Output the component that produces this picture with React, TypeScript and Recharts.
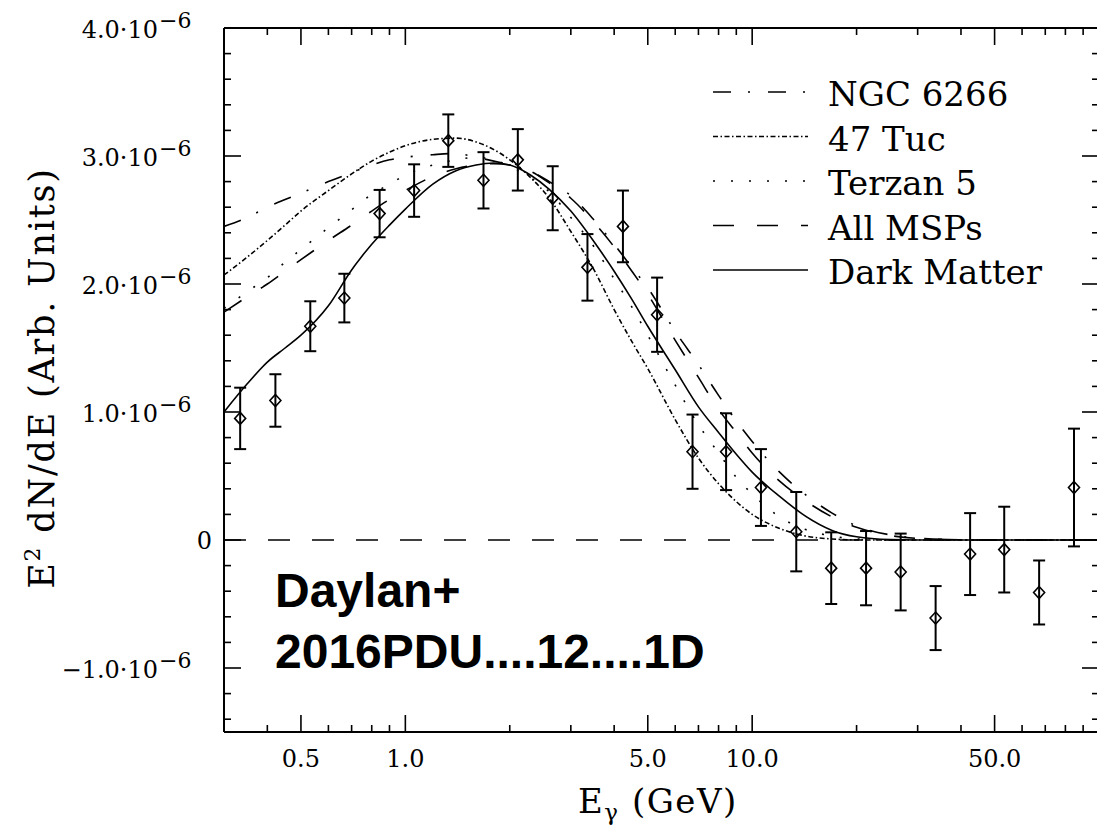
import React from 'react';
import { ComposedChart, Line, Scatter, ErrorBar, XAxis, YAxis, ReferenceLine, Legend } from 'recharts';

const UNIT = 1e-6;

// Measured spectrum: energy (GeV), E^2 dN/dE and 1-sigma error (in units of 1e-6)
const BIN_ENERGY = [0.334, 0.422, 0.532, 0.667, 0.843, 1.06, 1.33, 1.68, 2.11, 2.66, 3.35, 4.24, 5.32, 6.73, 8.41, 10.6, 13.4, 16.9, 21.3, 26.8, 33.8, 42.5, 53.3, 67.2, 84.7];
const BIN_FLUX = [0.95, 1.09, 1.67, 1.89, 2.55, 2.73, 3.12, 2.81, 2.97, 2.67, 2.13, 2.45, 1.76, 0.69, 0.69, 0.41, 0.065, -0.22, -0.22, -0.25, -0.61, -0.11, -0.075, -0.41, 0.41];
const BIN_ERROR = [0.24, 0.205, 0.195, 0.19, 0.185, 0.205, 0.205, 0.22, 0.24, 0.25, 0.26, 0.28, 0.29, 0.29, 0.3, 0.3, 0.31, 0.28, 0.29, 0.3, 0.25, 0.32, 0.335, 0.25, 0.46];

// Model spectra (units of 1e-6)
const CURVE_ENERGY = [0.3, 0.35, 0.4, 0.45, 0.5, 0.6, 0.7, 0.8, 0.9, 1.0, 1.2, 1.4, 1.6, 1.8, 2.0, 2.3, 2.6, 3.0, 3.5, 4.0, 4.5, 5.0, 6.0, 7.0, 8.0, 9.0, 10, 12, 14, 17, 20, 25, 30, 40, 60, 100];
const NGC_6266 = [2.45, 2.52, 2.6, 2.66, 2.71, 2.8, 2.87, 2.93, 2.97, 2.99, 3.01, 3.02, 2.99, 2.96, 2.93, 2.88, 2.8, 2.69, 2.5, 2.31, 2.13, 1.97, 1.63, 1.37, 1.13, 0.93, 0.77, 0.53, 0.37, 0.21, 0.11, 0.04, 0.015, 0.002, 0, 0];
const TUC_47 = [2.07, 2.21, 2.34, 2.46, 2.57, 2.73, 2.86, 2.96, 3.03, 3.08, 3.13, 3.14, 3.11, 3.05, 2.97, 2.83, 2.67, 2.41, 2.11, 1.8, 1.55, 1.34, 0.94, 0.64, 0.44, 0.3, 0.2, 0.09, 0.035, 0.008, 0.001, 0, 0, 0, 0, 0];
const TERZAN_5 = [1.81, 1.94, 2.05, 2.17, 2.27, 2.44, 2.58, 2.7, 2.78, 2.85, 2.93, 2.97, 2.99, 2.97, 2.92, 2.83, 2.72, 2.52, 2.29, 2.04, 1.82, 1.6, 1.21, 0.9, 0.68, 0.49, 0.36, 0.18, 0.09, 0.03, 0.008, 0, 0, 0, 0, 0];
const ALL_MSPS = [1.78, 1.9, 2.0, 2.1, 2.19, 2.34, 2.46, 2.57, 2.66, 2.73, 2.84, 2.9, 2.93, 2.94, 2.93, 2.88, 2.79, 2.67, 2.48, 2.29, 2.1, 1.92, 1.56, 1.27, 1.02, 0.84, 0.68, 0.46, 0.32, 0.18, 0.1, 0.035, 0.012, 0.002, 0, 0];
const DARK_MATTER = [1.0, 1.22, 1.39, 1.5, 1.6, 1.83, 2.11, 2.31, 2.46, 2.585, 2.78, 2.885, 2.93, 2.945, 2.93, 2.85, 2.74, 2.57, 2.33, 2.1, 1.88, 1.67, 1.33, 1.04, 0.84, 0.67, 0.53, 0.34, 0.2, 0.075, 0.025, 0.003, 0, 0, 0, 0];

// Axis ticks
const X_MAJOR = [0.5, 1, 5, 10, 50];
const X_MINOR = [0.4, 0.6, 0.7, 0.8, 0.9, 2, 3, 4, 6, 7, 8, 9, 20, 30, 40, 60, 70, 80, 90];
const Y_MAJOR = [-1, 0, 1, 2, 3, 4];
const Y_MINOR = [-1.4, -1.2, -0.8, -0.6, -0.4, -0.2, 0.2, 0.4, 0.6, 0.8, 1.2, 1.4, 1.6, 1.8, 2.2, 2.4, 2.6, 2.8, 3.2, 3.4, 3.6, 3.8];

const SERIES = [
  { key: 'ngc', name: 'NGC 6266', values: NGC_6266 },
  { key: 'tuc', name: '47 Tuc', values: TUC_47 },
  { key: 'ter', name: 'Terzan 5', values: TERZAN_5 },
  { key: 'msp', name: 'All MSPs', values: ALL_MSPS },
  { key: 'dm', name: 'Dark Matter', values: DARK_MATTER },
];

const DASH: Record<string, string | undefined> = {
  ngc: '18 17 2 18',
  tuc: '5 2.5 1.5 2.5',
  ter: '2 16',
  msp: '21 23',
  dm: undefined,
};

const curveRows = CURVE_ENERGY.map((e, i) => {
  const row: Record<string, number> = { x: e };
  SERIES.forEach((s) => { row[s.key] = s.values[i] * UNIT; });
  return row;
});

const pointRows = BIN_ENERGY.map((e, i) => ({ x: e, y: BIN_FLUX[i] * UNIT, err: BIN_ERROR[i] * UNIT }));

const X_TICKS = [...X_MAJOR, ...X_MINOR].sort((a, b) => a - b);
const Y_TICKS = [...Y_MAJOR, ...Y_MINOR].sort((a, b) => a - b).map((v) => v * UNIT);

const SERIF = "'DejaVu Serif', serif";
const SANS = "'Liberation Sans', Arial, sans-serif";

const isXMajor = (v: number) => X_MAJOR.some((m) => Math.abs(m - v) < 1e-9);
const yUnits = (v: number) => v / UNIT;
const isYMajor = (v: number) => Math.abs(yUnits(v) - Math.round(yUnits(v))) < 1e-6;

const XTickBottom = (props: any) => {
  const { x, y, payload } = props;
  const major = isXMajor(payload.value);
  return (
    <g>
      <line x1={x} y1={y} x2={x} y2={y - (major ? 17 : 7)} stroke="#000" strokeWidth={1.6} />
      {major && (
        <text x={x} y={y + 35} textAnchor="middle" fontFamily={SERIF} fontSize={24} fill="#000">
          {Number(payload.value).toFixed(1)}
        </text>
      )}
    </g>
  );
};

const XTickTop = (props: any) => {
  const { x, y, payload } = props;
  const major = isXMajor(payload.value);
  return <line x1={x} y1={y} x2={x} y2={y + (major ? 17 : 7)} stroke="#000" strokeWidth={1.6} />;
};

const YTickLeft = (props: any) => {
  const { x, y, payload } = props;
  const major = isYMajor(payload.value);
  const r = Math.round(yUnits(payload.value));
  let label = null;
  if (major) {
    if (r === 0) {
      label = (
        <text x={x - 12} y={y + 9} textAnchor="end" fontFamily={SERIF} fontSize={24} fill="#000">0</text>
      );
    } else {
      const mant = `${r < 0 ? '\u2212' : ''}${Math.abs(r).toFixed(1)}\u00b710`;
      label = (
        <g>
          <text x={x - 66} y={y + 10} textAnchor="end" fontFamily={SERIF} fontSize={24} fill="#000">{mant}</text>
          <text x={x - 65} y={y} textAnchor="start" fontFamily={SERIF} fontSize={22} fill="#000">{'\u22126'}</text>
        </g>
      );
    }
  }
  return (
    <g>
      <line x1={x} y1={y} x2={x + (major ? 17 : 7)} y2={y} stroke="#000" strokeWidth={1.6} />
      {label}
    </g>
  );
};

const YTickRight = (props: any) => {
  const { x, y, payload } = props;
  const major = isYMajor(payload.value);
  return <line x1={x} y1={y} x2={x - (major ? 17 : 7)} y2={y} stroke="#000" strokeWidth={1.6} />;
};

const XTitle = (props: any) => {
  const vb = props.viewBox || { x: 216, y: 724, width: 875, height: 94 };
  return (
    <text x={vb.x + 354} y={vb.y + 81} fontFamily={SERIF} fontSize={34} fill="#000" letterSpacing={1.5}>
      E<tspan fontSize={23} dy={7}>{'\u03b3'}</tspan>
      <tspan dy={-7}>{' (GeV)'}</tspan>
    </text>
  );
};

const YTitle = (props: any) => {
  const vb = props.viewBox || { x: 0, y: 20, width: 216, height: 704 };
  const cx = 46;
  const cy = vb.y + vb.height / 2 - 2;
  return (
    <text x={cx} y={cy} transform={`rotate(-90 ${cx} ${cy})`} textAnchor="middle" fontFamily={SERIF} fontSize={35} fill="#000" letterSpacing={1.8}>
      E<tspan fontSize={22} dy={-14}>2</tspan>
      <tspan dy={14}>{'  dN/dE (Arb. Units)'}</tspan>
    </text>
  );
};

const Diamond = (props: any) => {
  const { cx, cy } = props;
  if (cx == null || cy == null) return <g />;
  const w = 5.5;
  const h = 6;
  return (
    <polygon
      points={`${cx},${cy - h} ${cx + w},${cy} ${cx},${cy + h} ${cx - w},${cy}`}
      fill="none"
      stroke="#000"
      strokeWidth={1.6}
    />
  );
};

const LegendBox = (props: any) => {
  const order = SERIES.map((s) => s.key);
  const items = (props.payload || [])
    .filter((p: any) => order.includes(p.dataKey))
    .sort((a: any, b: any) => order.indexOf(a.dataKey) - order.indexOf(b.dataKey));
  return (
    <svg width={390} height={230} style={{ display: 'block', overflow: 'visible' }}>
      {items.map((entry: any, i: number) => {
        const y = 27 + i * 44.5;
        return (
          <g key={entry.dataKey}>
            <line x1={8} x2={103} y1={y} y2={y} stroke="#000" strokeWidth={1.6} strokeDasharray={DASH[entry.dataKey]} />
            <text x={123} y={y + 14} fontFamily={SERIF} fontSize={34} fill="#000">{entry.value}</text>
          </g>
        );
      })}
    </svg>
  );
};

export default function App() {
  return (
    <div style={{ position: 'fixed', left: 8, top: 8, width: 1089, height: 818, overflow: 'hidden', background: '#fff' }}>
      <ComposedChart width={1101} height={818} margin={{ top: 19, right: 0, bottom: 0, left: 0 }}>
        <XAxis
          xAxisId="bottom"
          dataKey="x"
          type="number"
          scale="log"
          domain={[0.3, 100]}
          allowDataOverflow
          ticks={X_TICKS}
          interval={0}
          tick={<XTickBottom />}
          tickLine={false}
          tickSize={0}
          tickMargin={0}
          height={94}
          axisLine={{ stroke: '#000', strokeWidth: 2 }}
          label={<XTitle />}
        />
        <XAxis
          xAxisId="top"
          orientation="top"
          dataKey="x"
          type="number"
          scale="log"
          domain={[0.3, 100]}
          allowDataOverflow
          ticks={X_TICKS}
          interval={0}
          tick={<XTickTop />}
          tickLine={false}
          tickSize={0}
          tickMargin={0}
          height={1}
          axisLine={{ stroke: '#000', strokeWidth: 2 }}
        />
        <YAxis
          yAxisId="left"
          type="number"
          domain={[-1.5 * UNIT, 4 * UNIT]}
          allowDataOverflow
          ticks={Y_TICKS}
          interval={0}
          tick={<YTickLeft />}
          tickLine={false}
          tickSize={0}
          tickMargin={0}
          width={216}
          axisLine={{ stroke: '#000', strokeWidth: 2 }}
          label={<YTitle />}
        />
        <YAxis
          yAxisId="right"
          orientation="right"
          type="number"
          domain={[-1.5 * UNIT, 4 * UNIT]}
          allowDataOverflow
          ticks={Y_TICKS}
          interval={0}
          tick={<YTickRight />}
          tickLine={false}
          tickSize={0}
          tickMargin={0}
          width={10}
          axisLine={{ stroke: '#000', strokeWidth: 2 }}
        />
        <ReferenceLine xAxisId="bottom" yAxisId="left" y={0} stroke="#000" strokeWidth={1.6} strokeDasharray="22 22" />
        {SERIES.map((s) => (
          <Line
            key={s.key}
            xAxisId="bottom"
            yAxisId="left"
            data={curveRows}
            dataKey={s.key}
            name={s.name}
            type="monotone"
            dot={false}
            activeDot={false}
            stroke="#000"
            strokeWidth={1.6}
            strokeDasharray={DASH[s.key]}
            isAnimationActive={false}
          />
        ))}
        <Scatter
          xAxisId="bottom"
          yAxisId="left"
          data={pointRows}
          dataKey="y"
          shape={<Diamond />}
          legendType="none"
          isAnimationActive={false}
        >
          <ErrorBar dataKey="err" direction="y" width={6} stroke="#000" strokeWidth={2} isAnimationActive={false} />
        </Scatter>
        <Legend
          verticalAlign="middle"
          align="center"
          layout="vertical"
          content={<LegendBox />}
          wrapperStyle={{ left: 697, top: 57, width: 390, height: 230 }}
        />
      </ComposedChart>
      <svg width={1089} height={818} style={{ position: 'absolute', left: 0, top: 0, pointerEvents: 'none' }}>
        <text x={267} y={599} fontFamily={SANS} fontWeight="bold" fontSize={48} fill="#000">Daylan+</text>
        <text x={267} y={660} fontFamily={SANS} fontWeight="bold" fontSize={48} fill="#000">2016PDU....12....1D</text>
      </svg>
    </div>
  );
}
